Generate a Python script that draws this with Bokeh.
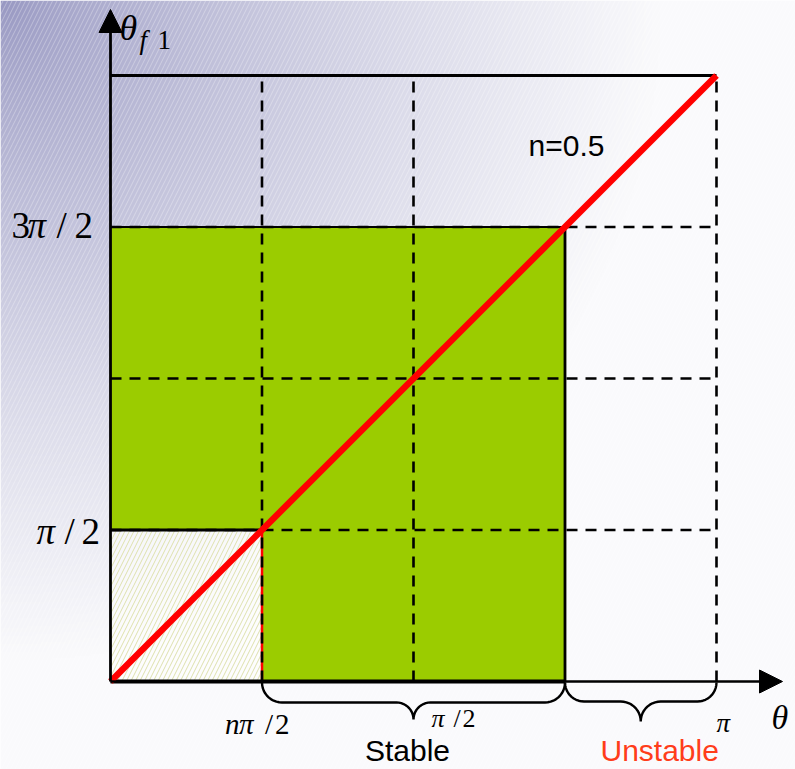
import numpy as np
from bokeh.plotting import figure
from bokeh.models import Label, Arrow, NormalHead
from bokeh.embed import file_html
from bokeh.resources import INLINE

PI = np.pi
# ---------------- data ----------------
n = 0.5
theta_dashed = [PI / 4, PI / 2, PI]                     # dashed vertical guide lines
theta_f1_grid = [PI / 2, PI, 3 * PI / 2]                # horizontal guide lines
theta_max = PI
theta_f1_max = 2 * PI
stable_lo = n * PI / 2                                  # n*pi/2
stable_hi = 3 * PI / 4
stable_top = 3 * PI / 2
diag_theta = [0.0, PI]
diag_theta_f1 = [t / n for t in diag_theta]

# ---------------- geometry ----------------
W, H = 795, 769
PXX = 151.5 / (PI / 4)
PXY = 151.5 / (PI / 2)
OX, OY = 110, 681          # frame pixel of data origin


def dx(px):  # frame px -> data x
    return (px - OX) / PXX


def dy(py):  # frame px (from top) -> data y
    return (OY - py) / PXY


def sx(x):
    return OX + x * PXX


def sy(y):
    return OY - y * PXY


p = figure(width=W, height=H, output_backend="svg", toolbar_location=None,
           x_range=(dx(0), dx(W)), y_range=(dy(H), dy(0)),
           min_border=0, outline_line_color=None)
p.axis.visible = False
p.grid.visible = False
p.background_fill_color = "white"
p.border_fill_color = "white"

# ---------------- background gradient ----------------
R = 2
gw, gh = (W + 1) // R, (H + 1) // R
yy, xx = np.mgrid[0:gh, 0:gw]
rx = xx * R
ry = (gh - 1 - yy) * R     # image rows go bottom->top
d = np.sqrt(rx ** 2 + ry ** 2)
t = np.clip(d / 660.0, 0, 1) ** 0.8
r = (152 + t * 98).astype(np.uint32)
g = (152 + t * 98).astype(np.uint32)
b = (194 + t * 58).astype(np.uint32)
img = (255 << 24) | (b << 16) | (g << 8) | r
img = img.astype(np.uint32)
p.image_rgba(image=[img], x=dx(0), y=dy(H), dw=dx(W) - dx(0), dh=dy(0) - dy(H))
p.quad(left=[dx(0)], right=[dx(W)], bottom=[dy(H)], top=[dy(0)], fill_alpha=0,
       line_alpha=0, hatch_pattern="/", hatch_color="white", hatch_alpha=0.3,
       hatch_scale=9, hatch_weight=1)

# ---------------- regions ----------------
p.patch(x=[0, stable_lo, stable_lo, stable_hi, stable_hi, 0],
        y=[PI / 2, PI / 2, 0, 0, stable_top, stable_top],
        fill_color="#9BCC00", line_color=None)
p.quad(left=[0], right=[stable_lo], bottom=[0], top=[PI / 2], fill_color="white",
       fill_alpha=0.55, line_alpha=0, hatch_pattern="/", hatch_color="#D6DA98",
       hatch_alpha=0.8, hatch_scale=9, hatch_weight=1)

# red guide under the dashed line
p.line(x=[stable_lo, stable_lo], y=[0, PI / 2], line_color="red", line_width=2.5)

# dashed guides
p.multi_line(xs=[[x, x] for x in theta_dashed], ys=[[0, theta_f1_max]] * len(theta_dashed),
             line_color="black", line_width=2.6, line_dash="11 8")
p.multi_line(xs=[[0, theta_max]] * len(theta_f1_grid), ys=[[y, y] for y in theta_f1_grid],
             line_color="black", line_width=2.6, line_dash="11 8")

# solid borders
p.line(x=[0, theta_max], y=[theta_f1_max, theta_f1_max], line_color="black", line_width=2.8)
p.line(x=[0, stable_hi], y=[stable_top, stable_top], line_color="black", line_width=2.2)
p.line(x=[stable_hi, stable_hi], y=[0, stable_top], line_color="black", line_width=2.8)
p.line(x=[0, stable_lo], y=[PI / 2, PI / 2], line_color="black", line_width=2.8)
p.line(x=[0, stable_hi], y=[0, 0], line_color="black", line_width=3.8)

# axes with arrow heads
p.add_layout(Arrow(end=NormalHead(size=23, fill_color="black", line_color="black"),
                   x_start=0, y_start=0, x_end=0, y_end=dy(9),
                   line_color="black", line_width=2.8))
p.add_layout(Arrow(end=NormalHead(size=23, fill_color="black", line_color="black"),
                   x_start=0, y_start=0, x_end=dx(782), y_end=0,
                   line_color="black", line_width=2.3))

# red diagonal
p.line(x=diag_theta, y=diag_theta_f1, line_color="#FF0000", line_width=6.5)


# ---------------- braces ----------------
def brace(x0, x1, r1, r2, depth_top=1):
    a = sx(x0)
    b_ = sx(x1)
    m = (a + b_) / 2
    top = sy(0) + depth_top
    h = top + r1
    pts = []
    for ang in np.linspace(PI, PI / 2, 12):
        pts.append((a + r1 + r1 * np.cos(ang), top + r1 * np.sin(ang)))
    for ang in np.linspace(-PI / 2, 0, 12):
        pts.append((m - r2 + r2 * np.cos(ang), h + r2 + r2 * np.sin(ang)))
    for ang in np.linspace(PI, 3 * PI / 2, 12):
        pts.append((m + r2 + r2 * np.cos(ang), h + r2 + r2 * np.sin(ang)))
    for ang in np.linspace(PI / 2, 0, 12):
        pts.append((b_ - r1 + r1 * np.cos(ang), top + r1 * np.sin(ang)))
    return [dx(q[0]) for q in pts], [dy(q[1]) for q in pts]


bx, by = brace(stable_lo, stable_hi, 20, 17)
p.line(x=bx, y=by, line_color="black", line_width=2.4)
bx, by = brace(stable_hi, theta_max, 19, 20)
p.line(x=bx, y=by, line_color="black", line_width=2.4)


# ---------------- text ----------------
def lab(text, x, y, ox, oy, size, italic=False, font="Liberation Serif", color="black", align="left"):
    oy = oy - 0.29 * size   # correct label baseline placement
    p.add_layout(Label(x=dx(sx(x) + ox), y=dy(sy(y) + oy), text=text,
                       text_font=font, text_font_size=f"{size}px",
                       text_font_style="italic" if italic else "normal",
                       text_color=color, text_align=align, text_baseline="alphabetic"))


# y axis title theta_f1
ytop = dy(9)
lab("θ", 0, ytop, 9, 29, 36, italic=True)
lab("f", 0, ytop, 29, 38, 27, italic=True)
lab("1", 0, ytop, 47, 38, 27)
# x axis title theta
lab("θ", dx(782), 0, -11, 46, 34, italic=True)

# 3pi/2
lab("3", 0, stable_top, -99, 9, 37)
lab("π", 0, stable_top, -83, 9, 37, italic=True)
lab("/", 0, stable_top, -54, 9, 37)
lab("2", 0, stable_top, -36, 9, 37)
# pi/2
lab("π", 0, PI / 2, -74, 12.5, 37, italic=True)
lab("/", 0, PI / 2, -46, 12.5, 37)
lab("2", 0, PI / 2, -29, 12.5, 37)
# n pi/2
lab("n", stable_lo, 0, -37, 51, 29, italic=True)
lab("π", stable_lo, 0, -23, 51, 29, italic=True)
lab("/", stable_lo, 0, 3, 51, 29)
lab("2", stable_lo, 0, 13, 51, 29)
# pi/2
lab("π", PI / 2, 0, 18, 45, 26, italic=True)
lab("/", PI / 2, 0, 40, 45, 26)
lab("2", PI / 2, 0, 49, 45, 26)
# pi
lab("π", PI, 0, 0, 49, 27, italic=True)

lab("n=0.5", 0, 0, 528 - 110, 154 - 681, 30, font="Liberation Sans")
lab("Stable", (stable_lo + stable_hi) / 2, 0, -6, 78, 30, font="Liberation Sans", align="center")
lab("Unstable", stable_hi, 0, 600 - 564.5, 78, 30, font="Liberation Sans", color="#FF3D1A")

open("out.html", "w").write(file_html(p, INLINE))
